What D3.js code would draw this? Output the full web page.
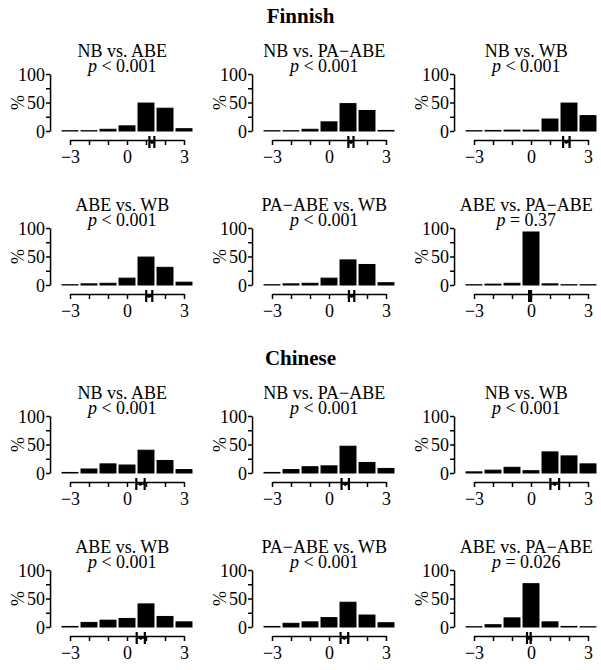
<!DOCTYPE html>
<html>
<head>
<meta charset="utf-8">
<script src="https://cdn.jsdelivr.net/npm/d3@7"></script>
<style>
	body { margin: 0; background: #fff; }
	text { font-family: "Liberation Serif", "Times New Roman", serif; fill: #000; }
</style>
</head>
<body>
<div id="chart"></div>
<script>
// Data
const xCats = [-3, -2, -1, 0, 1, 2, 3]
const languages = ['Finnish', 'Chinese']
const comparisons = ['NB vs. ABE', 'NB vs. PA\u2212ABE', 'NB vs. WB', 'ABE vs. WB', 'PA\u2212ABE vs. WB', 'ABE vs. PA\u2212ABE']

const pFinnish = ['< 0.001', '< 0.001', '< 0.001', '< 0.001', '< 0.001', '= 0.37']
const pChinese = ['< 0.001', '< 0.001', '< 0.001', '< 0.001', '< 0.001', '= 0.026']

// percentage of ratings at each difference score (-3 .. 3)
const finnishPct = [
	[0.5, 0.5, 3, 9, 49, 40, 4],
	[0.5, 0.5, 3, 16, 48, 36, 1],
	[0.5, 1, 1.5, 1.5, 21, 49, 27],
	[0.5, 2, 3, 12, 49, 31, 5],
	[0.5, 2, 3, 12, 44, 36, 4],
	[0.5, 1.5, 3, 93, 2, 0.5, 0.5]
]
const chinesePct = [
	[1, 7, 16, 14, 40, 22, 6],
	[1, 6, 11, 12.5, 47, 18.5, 8],
	[2, 5, 10, 4, 37, 30, 16],
	[1, 8, 12, 15, 40.5, 18.5, 9],
	[1, 6.5, 9, 16.5, 43.5, 21, 7.5],
	[0.5, 4, 16, 76, 9, 1, 0.5]
]

// confidence interval of the mean difference
const finnishCI = [[1.18, 1.44], [1.02, 1.29], [1.69, 2.03], [1.01, 1.33], [1.05, 1.33], [-0.1, 0.0]]
const chineseCI = [[0.49, 0.93], [0.66, 1.05], [1.02, 1.48], [0.51, 0.94], [0.61, 1.01], [-0.21, -0.02]]

const pValues = [pFinnish, pChinese]
const pcts = [finnishPct, chinesePct]
const cis = [finnishCI, chineseCI]

// Layout
const W = 601, H = 670
const colLeft = [70, 272, 474]
const rowBase = [131, 285, 473, 627]
const unit = 19, yHeight = 57
const serif = '"Liberation Serif", "Times New Roman", serif'

const svg = d3.select('#chart').append('svg')
	.attr('width', W)
	.attr('height', H)

const fmt = d => d3.format('d')(d)

languages.forEach((lang, li) => {
	svg.append('text')
		.attr('x', W / 2)
		.attr('y', rowBase[li * 2] - 108)
		.attr('text-anchor', 'middle')
		.style('font-size', '21px')
		.style('font-weight', 'bold')
		.text(lang)

	comparisons.forEach((comp, ci) => {
		const row = li * 2 + Math.floor(ci / 3)
		const col = ci % 3
		const base = rowBase[row]

		const x = d3.scaleLinear()
			.domain([-3, 3])
			.range([colLeft[col], colLeft[col] + 6 * unit])
		const y = d3.scaleLinear()
			.domain([0, 100])
			.range([base, base - yHeight])

		const g = svg.append('g')

		// Titles
		g.append('text')
			.attr('x', x(-0.25))
			.attr('y', base - 74)
			.attr('text-anchor', 'middle')
			.style('font-size', '18px')
			.text(comp)

		const pt = g.append('text')
			.attr('x', x(-0.25))
			.attr('y', base - 59)
			.attr('text-anchor', 'middle')
			.style('font-size', '18px')
		pt.append('tspan').style('font-style', 'italic').text('p')
		pt.append('tspan').text(' ' + pValues[li][ci])

		// Bars
		const bw = 0.84 * unit
		g.append('g').selectAll('rect')
			.data(pcts[li][ci])
			.join('rect')
			.attr('x', (d, i) => x(xCats[i]) - bw / 2)
			.attr('y', d => y(d))
			.attr('width', bw)
			.attr('height', d => y(0) - y(d))
			.attr('fill', '#000')
			.attr('stroke', '#000')
			.attr('stroke-width', 1)

		// Y axis
		const yAxis = g.append('g')
			.attr('transform', `translate(${x(-4.05)},0)`)
			.call(d3.axisLeft(y)
				.tickValues([0, 25, 50, 75, 100])
				.tickSize(4)
				.tickSizeOuter(0)
				.tickFormat(d => d % 50 === 0 ? fmt(d) : ''))
			.attr('font-family', serif)
			.attr('font-size', 18)
		yAxis.selectAll('text')
			.attr('x', -5)
			.attr('dy', '0.34em')

		g.append('text')
			.attr('transform', `translate(${x(-4.05) - 32},${y(50)}) rotate(-90)`)
			.attr('text-anchor', 'middle')
			.attr('dy', '0.34em')
			.style('font-size', '18px')
			.text('%')

		// X axis
		const axisY = base + 9
		const xAxis = g.append('g')
			.attr('transform', `translate(0,${axisY})`)
			.call(d3.axisBottom(x)
				.tickValues(xCats)
				.tickSize(5)
				.tickSizeOuter(0)
				.tickFormat(d => d % 3 === 0 ? fmt(d) : ''))
			.attr('font-family', serif)
			.attr('font-size', 18)
		xAxis.selectAll('text')
			.attr('y', 10)
			.attr('dy', '0.71em')

		svg.selectAll('.domain, .tick line')
			.attr('stroke', '#000')
			.attr('stroke-width', 1.5)

		// CI marker
		const [lo, hi] = cis[li][ci]
		const m = g.append('g').attr('stroke', '#000')
		m.selectAll('line.end')
			.data([lo, hi])
			.join('line')
			.attr('class', 'end')
			.attr('x1', d => x(d))
			.attr('x2', d => x(d))
			.attr('y1', axisY - 4)
			.attr('y2', axisY + 8)
			.attr('stroke-width', 2.2)
		m.append('line')
			.attr('x1', x(lo))
			.attr('x2', x(hi))
			.attr('y1', axisY + 2)
			.attr('y2', axisY + 2)
			.attr('stroke-width', 1.5)
		m.append('circle')
			.attr('cx', x((lo + hi) / 2))
			.attr('cy', axisY + 2)
			.attr('r', 1.4)
			.attr('fill', '#000')
	})
})
</script>
</body>
</html>
